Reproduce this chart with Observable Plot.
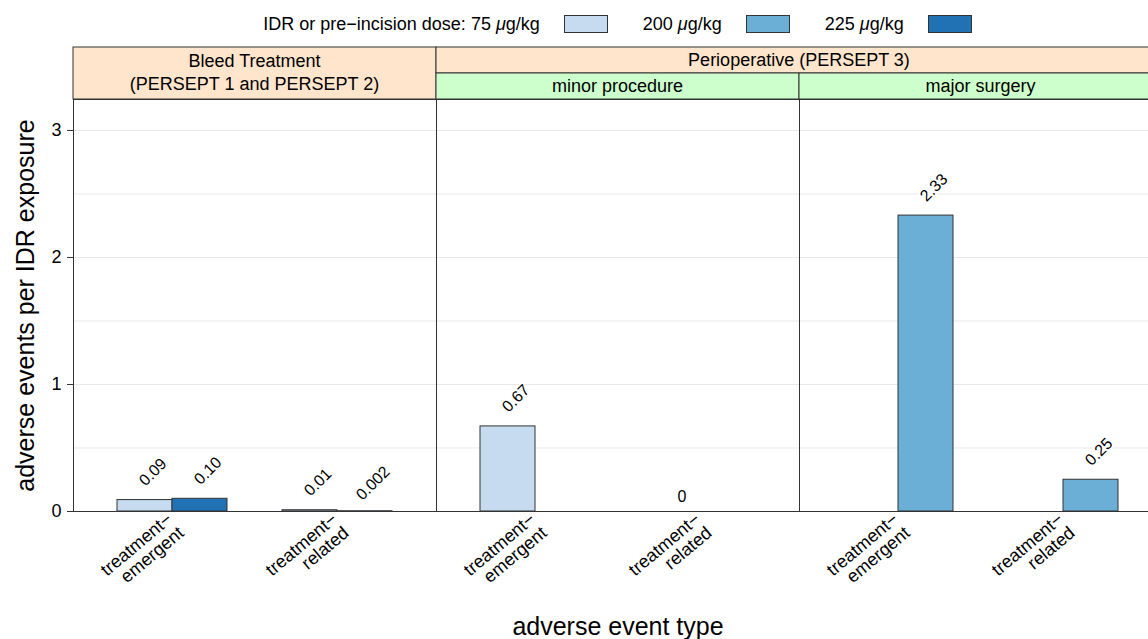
<!DOCTYPE html>
<html><head><meta charset="utf-8">
<script src="https://cdn.jsdelivr.net/npm/d3@7"></script>
<script src="https://cdn.jsdelivr.net/npm/@observablehq/plot@0.6"></script>
<style>
html,body{margin:0;padding:0;background:#fff;overflow:hidden}
#wrap{position:relative;width:1148px;height:639px;overflow:hidden;font-family:"Liberation Sans",Arial,sans-serif;color:#000}
#legend{position:absolute;top:14px;left:73px;width:1089px;display:flex;justify-content:center;align-items:center;font-size:18px;white-space:nowrap;line-height:20px}
#legend .sw{display:inline-block;box-sizing:border-box;width:44px;height:18px;border:1px solid #333;margin-left:24px}
#legend .gap{display:inline-block;width:35px}
#chart{position:absolute;top:40px;left:0;width:1162px;height:599px}
#chart svg{max-width:none !important;width:1162px !important;height:599px !important}
</style></head><body>
<div id="wrap"><div id="legend"></div><div id="chart"></div></div>
<script>
// ---- data ----
const panels = ["Bleed Treatment", "minor procedure", "major surgery"];
const outerStrips = ["Bleed Treatment\n(PERSEPT 1 and PERSEPT 2)", "Perioperative (PERSEPT 3)"];
const eventTypes = ["treatment−emergent", "treatment−related"];
const doses = ["75", "200", "225"];
const doseColors = ["#c6dbef", "#6baed6", "#2171b5"];
const legendTitle = "IDR or pre−incision dose:";

const barPanel = ["Bleed Treatment", "Bleed Treatment", "Bleed Treatment", "Bleed Treatment",
                  "minor procedure", "minor procedure", "major surgery", "major surgery"];
const barType  = ["treatment−emergent", "treatment−emergent", "treatment−related", "treatment−related",
                  "treatment−emergent", "treatment−related", "treatment−emergent", "treatment−related"];
const barDose  = ["75", "225", "75", "225", "75", "75", "200", "200"];
const barValue = [0.09, 0.10, 0.01, 0.002, 0.67, 0, 2.33, 0.25];
const barLabel = ["0.09", "0.10", "0.01", "0.002", "0.67", "0", "2.33", "0.25"];

const yTicks = [0, 1, 2, 3];
const yGrid = [0.5, 1, 1.5, 2, 2.5, 3];
const yLabel = "adverse events per IDR exposure";
const xLabel = "adverse event type";

// ---- layout helpers ----
const rows = barValue.map((v, i) => ({panel: barPanel[i], type: barType[i], dose: barDose[i], value: v, label: barLabel[i]}));
const groupCenter = t => 1.8 + 3 * eventTypes.indexOf(t);
const barLeft = d => groupCenter(d.type) + (d.dose === "75" ? -1 : 0);
const tickText = v => eventTypes[Math.round((v - 1.8) / 3)].replace("−", "−\n");

// ---- legend ----
const lg = document.getElementById("legend");
const t0 = document.createElement("span");
t0.textContent = legendTitle + "\u00a0 ";
lg.appendChild(t0);
doses.forEach((d, i) => {
  if (i > 0) { const g = document.createElement("span"); g.className = "gap"; lg.appendChild(g); }
  const s = document.createElement("span");
  s.innerHTML = d + " <i>μ</i>g/kg";
  lg.appendChild(s);
  const b = document.createElement("span");
  b.className = "sw"; b.style.background = doseColors[i];
  lg.appendChild(b);
});

// ---- plot ----
const font = "Liberation Sans, Arial, sans-serif";
const plot = Plot.plot({
  width: 1162, height: 599,
  marginLeft: 73, marginRight: 0, marginTop: 59, marginBottom: 128,
  style: {fontFamily: font, background: "white", color: "black", overflow: "visible"},
  fx: {domain: panels, padding: 0, axis: null},
  x: {domain: [0, 6.6], axis: null},
  y: {domain: [0, 3.244], axis: null},
  color: {domain: doses, range: doseColors},
  marks: [
    Plot.gridY(yGrid, {stroke: "#e8e8e8", strokeOpacity: 1}),
    Plot.rectY(rows, {fx: "panel", x1: barLeft, x2: d => barLeft(d) + 1, y1: 0, y2: "value",
      fill: "dose", stroke: "#333", strokeWidth: 1}),
    Plot.text(rows.filter(d => d.value > 0), {fx: "panel", x: d => barLeft(d) + 0.5, y: "value", text: "label",
      rotate: -45, dx: 8, dy: -28, fontSize: 16, fill: "black", stroke: "white", strokeWidth: 4}),
    Plot.text(rows.filter(d => d.value === 0), {fx: "panel", x: d => barLeft(d) + 0.5, y: "value", text: "label",
      dx: 9, dy: -15, fontSize: 16, fill: "black", stroke: "white", strokeWidth: 4}),
    Plot.axisY({ticks: yTicks, tickFormat: d3.format("d"), tickSize: 6, tickPadding: 6, fontSize: 18, label: null, stroke: "#333"}),
    Plot.axisX({ticks: [1.8, 4.8], tickFormat: tickText, tickSize: 0, tickPadding: 12, tickRotate: -40,
      textAnchor: "end", lineAnchor: "middle", fontSize: 18, dx: 3, label: null}),
    Plot.frame({stroke: "#333"}),
    Plot.text([yLabel], {facet: "super", frameAnchor: "left", textAnchor: "middle", rotate: -90, dx: -48, fontSize: 25, lineAnchor: "middle"}),
    Plot.text([xLabel], {facet: "super", frameAnchor: "bottom", textAnchor: "middle", dy: 123, fontSize: 25, lineAnchor: "bottom"})
  ]
});
document.getElementById("chart").appendChild(plot);

// ---- strips (lattice-style) ----
const fx = plot.scale("fx");
const bw = fx.bandwidth;
const svg = d3.select(plot);
const sg = svg.append("g").attr("font-family", font).attr("font-size", 18).attr("text-anchor", "middle");
const top1 = 7, top2 = 33, bot = 59;
const x0 = fx.apply(panels[0]), x1 = fx.apply(panels[1]);
// bleed treatment (two rows)
sg.append("rect").attr("x", x0).attr("y", top1).attr("width", bw).attr("height", bot - top1)
  .attr("fill", "#ffe5cc").attr("stroke", "#333");
outerStrips[0].split("\n").forEach((line, i) => {
  sg.append("text").attr("x", x0 + bw / 2).attr("y", [21, 44][i]).attr("dy", "0.35em").text(line);
});
// perioperative (top row spanning two panels)
sg.append("rect").attr("x", x1).attr("y", top1).attr("width", 2 * bw).attr("height", top2 - top1)
  .attr("fill", "#ffe5cc").attr("stroke", "#333");
sg.append("text").attr("x", x1 + bw).attr("y", (top1 + top2) / 2).attr("dy", "0.35em").text(outerStrips[1]);
[panels[1], panels[2]].forEach(p => {
  const xx = fx.apply(p);
  sg.append("rect").attr("x", xx).attr("y", top2).attr("width", bw).attr("height", bot - top2)
    .attr("fill", "#ccffcc").attr("stroke", "#333");
  sg.append("text").attr("x", xx + bw / 2).attr("y", (top2 + bot) / 2).attr("dy", "0.35em").text(p);
});
</script>
</body></html>
